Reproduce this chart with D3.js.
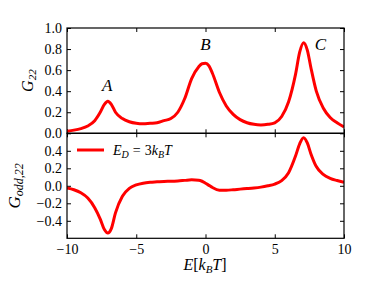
<!DOCTYPE html>
<html>
<head>
<meta charset="utf-8">
<script src="https://cdn.jsdelivr.net/npm/d3@7"></script>
</head>
<body style="margin:0;background:#fff">
<div id="chart"></div>
<script>
// energy grid
const energy = [-10, -9.5, -9, -8.5, -8, -7.6, -7.3, -7.05, -6.8, -6.5, -6, -5.5, -5, -4.5, -4, -3.5, -3, -2.5, -2, -1.5, -1, -0.5, -0.25,
  0, 0.25, 0.5, 1, 1.5, 2, 2.5, 3, 3.5, 4, 4.5, 5, 5.5, 6, 6.5, 6.8, 7.08, 7.35, 7.6, 8, 8.5, 9, 9.5, 10];

// G_22 (top panel)
const g22 = [0.02, 0.03, 0.045, 0.07, 0.12, 0.20, 0.275, 0.305, 0.275, 0.20, 0.14, 0.11, 0.095, 0.09, 0.095, 0.10, 0.12, 0.14, 0.20, 0.33, 0.52, 0.63, 0.66,
  0.665, 0.64, 0.57, 0.39, 0.26, 0.18, 0.13, 0.10, 0.085, 0.08, 0.085, 0.10, 0.16, 0.30, 0.56, 0.77, 0.86, 0.79, 0.63, 0.40, 0.24, 0.15, 0.10, 0.06];

// G_odd,22 (bottom panel)
const godd = [-0.025, -0.045, -0.08, -0.14, -0.25, -0.38, -0.50, -0.54, -0.49, -0.31, -0.12, -0.03, 0.01, 0.03, 0.04, 0.045, 0.05, 0.052, 0.056, 0.062, 0.068, 0.064, 0.052,
  0.03, 0.005, -0.02, -0.05, -0.05, -0.045, -0.038, -0.032, -0.025, -0.015, 0.0, 0.02, 0.06, 0.15, 0.34, 0.48, 0.55, 0.49, 0.37, 0.22, 0.13, 0.085, 0.06, 0.04];

const peakLabels = [
  {name: "A", e: -7.1, v: 0.40},
  {name: "B", e: 0, v: 0.79},
  {name: "C", e: 8.3, v: 0.79}
];

const xTicks = [-10, -5, 0, 5, 10];
const topTicks = [0, 0.2, 0.4, 0.6, 0.8, 1.0];
const botTicks = [-0.4, -0.2, 0, 0.2, 0.4];

const width = 374, height = 281;
const mLeft = 67, mRight = 344, mTop = 28, mMid = 133.3, mBottom = 238.3;
const serif = "'Liberation Serif'";

const svg = d3.select("#chart").append("svg")
    .attr("width", width)
    .attr("height", height)
    .style("display", "block");

const x = d3.scaleLinear().domain([-10, 10]).range([mLeft, mRight]);
const yTop = d3.scaleLinear().domain([0, 1]).range([mMid, mTop]);
const yBot = d3.scaleLinear().domain([-0.6, 0.6]).range([mBottom, mMid]);

const pts1 = energy.map((e, i) => [e, g22[i]]);
const pts2 = energy.map((e, i) => [e, godd[i]]);

function drawPanel(y, yt, pts, y0, y1, showXLabels) {
  const g = svg.append("g");

  // inward ticks on all sides
  g.append("g")
      .attr("transform", "translate(" + mLeft + ",0)")
      .call(d3.axisLeft(y).tickValues(yt).tickFormat(d3.format(".1f")).tickSizeInner(-4).tickSizeOuter(0).tickPadding(5));
  g.append("g")
      .attr("transform", "translate(" + mRight + ",0)")
      .call(d3.axisRight(y).tickValues(yt).tickFormat("").tickSizeInner(-4).tickSizeOuter(0));
  g.append("g")
      .attr("transform", "translate(0," + y1 + ")")
      .call(d3.axisBottom(x).tickValues(xTicks).tickFormat(showXLabels ? d3.format("d") : "").tickSizeInner(-4).tickSizeOuter(0).tickPadding(6));
  g.append("g")
      .attr("transform", "translate(0," + y0 + ")")
      .call(d3.axisTop(x).tickValues(xTicks).tickFormat("").tickSizeInner(-4).tickSizeOuter(0));
  g.selectAll(".domain").remove();
  g.selectAll("g").attr("font-family", null).attr("font-size", null);
  g.selectAll(".tick line").attr("stroke", "#000").attr("stroke-width", 1);
  g.selectAll(".tick text")
      .style("font-family", serif)
      .style("font-size", "14px")
      .attr("fill", "#000");

  const clipId = "clip" + Math.round(y0);
  svg.append("clipPath").attr("id", clipId)
    .append("rect").attr("x", mLeft).attr("y", y0).attr("width", mRight - mLeft).attr("height", y1 - y0);

  const line = d3.line()
      .x(d => x(d[0]))
      .y(d => y(d[1]))
      .curve(d3.curveMonotoneX);

  svg.append("path")
      .datum(pts)
      .attr("clip-path", "url(#" + clipId + ")")
      .attr("fill", "none")
      .attr("stroke", "#ff0000")
      .attr("stroke-width", 3)
      .attr("stroke-linejoin", "round")
      .attr("d", line);

  svg.append("rect")
      .attr("x", mLeft).attr("y", y0)
      .attr("width", mRight - mLeft).attr("height", y1 - y0)
      .attr("fill", "none").attr("stroke", "#000").attr("stroke-width", 1.2);
}

drawPanel(yTop, topTicks, pts1, mTop, mMid, false);
drawPanel(yBot, botTicks, pts2, mMid, mBottom, true);

function mathText(sel, size) {
  return sel.append("text")
      .style("font-family", serif)
      .style("font-style", "italic")
      .style("font-size", size + "px")
      .attr("fill", "#000");
}

// peak labels
peakLabels.forEach(function(d) {
  mathText(svg, 17)
      .attr("x", x(d.e))
      .attr("y", yTop(d.v))
      .attr("text-anchor", "middle")
      .text(d.name);
});

// legend
svg.append("line")
    .attr("x1", 77).attr("x2", 104)
    .attr("y1", 150).attr("y2", 150)
    .attr("stroke", "#ff0000").attr("stroke-width", 3);

const leg = mathText(svg, 14)
    .attr("x", 113).attr("y", 155);
leg.append("tspan").text("E");
leg.append("tspan").style("font-size", "10px").attr("dy", 3).text("D");
leg.append("tspan").attr("dy", -3).attr("dx", 4).style("font-style", "normal").text("=");
leg.append("tspan").attr("dx", 4).style("font-style", "normal").text("3");
leg.append("tspan").text("k");
leg.append("tspan").style("font-size", "10px").attr("dy", 3).text("B");
leg.append("tspan").attr("dy", -3).text("T");

// x label
const xl = mathText(svg, 16)
    .attr("x", 205).attr("y", 270)
    .attr("text-anchor", "middle");
xl.append("tspan").text("E");
xl.append("tspan").style("font-style", "normal").text("[");
xl.append("tspan").text("k");
xl.append("tspan").style("font-size", "11px").attr("dy", 3).text("B");
xl.append("tspan").attr("dy", -3).text("T");
xl.append("tspan").style("font-style", "normal").text("]");

// y labels
const yl1 = mathText(svg, 16)
    .attr("transform", "translate(33," + ((mTop + mMid) / 2) + ") rotate(-90)")
    .attr("text-anchor", "middle");
yl1.append("tspan").text("G");
yl1.append("tspan").style("font-size", "11px").attr("dy", 3).text("22");

const yl2 = mathText(svg, 17)
    .attr("transform", "translate(20," + ((mMid + mBottom) / 2) + ") rotate(-90)")
    .attr("text-anchor", "middle");
yl2.append("tspan").text("G");
yl2.append("tspan").style("font-size", "12px").attr("dy", 3).text("odd,22");
</script>
</body>
</html>
